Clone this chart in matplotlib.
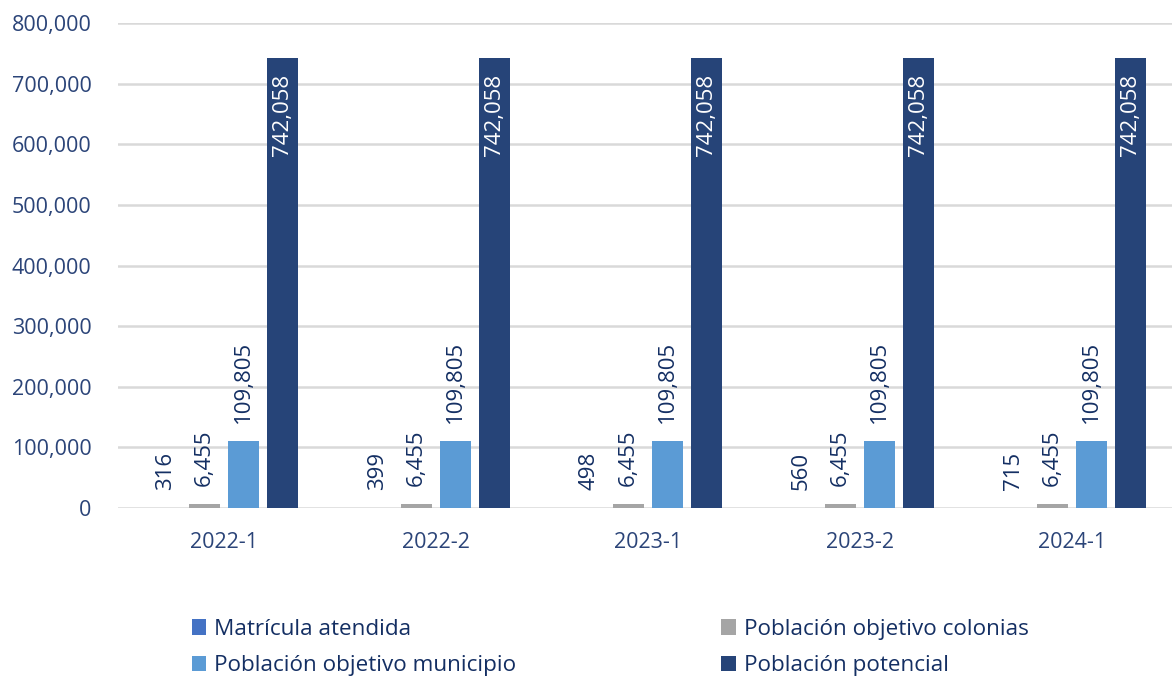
import numpy as np
import matplotlib.pyplot as plt

periods = ['2022-1', '2022-2', '2023-1', '2023-2', '2024-1']
series_names = ['Matrícula atendida', 'Población objetivo colonias',
                'Población objetivo municipio', 'Población potencial']
matricula = [316, 399, 498, 560, 715]
colonias = [6455, 6455, 6455, 6455, 6455]
municipio = [109805, 109805, 109805, 109805, 109805]
potencial = [742058, 742058, 742058, 742058, 742058]
colors = ['#4472C4', '#A5A5A5', '#5B9BD5', '#264478']

plt.rcParams['font.family'] = ['Open Sans', 'DejaVu Sans']
label_col = '#142F63'
tick_col = '#2B4478'

fig = plt.figure(figsize=(11.72, 6.77), dpi=100)
ax = fig.add_axes([0.1007, 0.2496, 0.9044, 0.7164])

x = np.arange(len(periods))
width = 0.146
step = 0.184
offsets = [-1.5 * step, -0.5 * step, 0.5 * step, 1.5 * step]
data = [matricula, colonias, municipio, potencial]

for i, (vals, name, col) in enumerate(zip(data, series_names, colors)):
    bars = ax.bar(x + offsets[i], vals, width, color=col, label=name, zorder=3)
    for b, v in zip(bars, vals):
        cx = b.get_x() + b.get_width() / 2
        if i == 3:
            ax.annotate(f'{v:,}', (cx, v), xytext=(0, -11), textcoords='offset points',
                        rotation=90, ha='center', va='top', color='white', fontsize=16)
        else:
            ax.annotate(f'{v:,}', (cx, v), xytext=(0, 13), textcoords='offset points',
                        rotation=90, ha='center', va='bottom', color=label_col, fontsize=16)

ax.set_ylim(0, 800000)
ax.set_xlim(-0.5, 4.5)
ax.set_yticks(np.arange(0, 800001, 100000))
ax.set_yticklabels([f'{t:,}' for t in range(0, 800001, 100000)])
ax.set_xticks(x)
ax.set_xticklabels(periods)
ax.tick_params(axis='both', length=0, labelsize=15.5, colors=tick_col)
ax.tick_params(axis='y', pad=19)
ax.tick_params(axis='x', pad=17)
ax.yaxis.grid(True, color='#D9D9D9', linewidth=1.8, zorder=0)
for s in ax.spines.values():
    s.set_visible(False)

# legend reads row by row in the reference
handles, labels = ax.get_legend_handles_labels()
order = [0, 2, 1, 3]
leg = fig.legend([handles[k] for k in order], [labels[k] for k in order],
                 loc='center', bbox_to_anchor=(0.5205, 0.0435), ncol=2,
                 frameon=False, fontsize=16.2, handlelength=0.65, handleheight=0.65,
                 handletextpad=0.35, columnspacing=9.1, labelspacing=0.68)
for t in leg.get_texts():
    t.set_color(label_col)

fig.savefig('out.png', dpi=100)
